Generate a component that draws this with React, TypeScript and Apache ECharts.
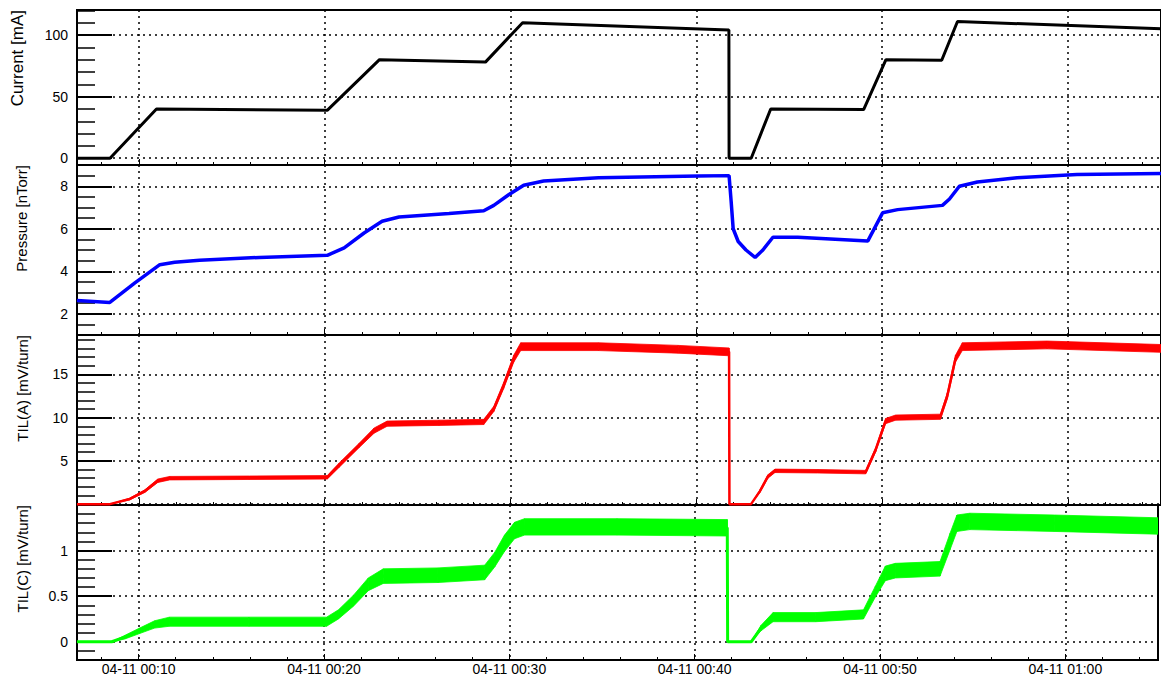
import React, { useEffect, useRef } from "react";
import * as echarts from "echarts";

// time axis: minutes after 04-11 00:00
const X_MIN = 6.674;
const X_MAX = 65;

const currentTime = [6.67, 8.45, 10.95, 20.15, 22.95, 28.65, 30.65, 41.75, 41.76, 42.95, 44.0, 49.0, 50.2, 53.2, 54.05, 65];
const currentVal = [0, 0, 40, 39, 80, 78, 110, 104, 0, 0, 40, 39.5, 80, 79.5, 111, 105];

const pressureTime = [6.67, 8.44, 9.79, 11.13, 11.93, 13.27, 16.49, 20.14, 21.05, 22.12, 23.09, 24.0, 26.69, 28.56, 29.1, 29.9, 30.71, 31.78, 34.73, 40.1, 41.76, 41.87, 41.98, 42.25, 42.67, 43.16, 43.58, 44.12, 45.46, 49.22, 50.02, 50.83, 53.24, 53.62, 54.15, 55.12, 57.26, 60.48, 65];
const pressureVal = [2.62, 2.53, 3.45, 4.31, 4.42, 4.52, 4.65, 4.75, 5.1, 5.8, 6.35, 6.55, 6.72, 6.85, 7.1, 7.6, 8.05, 8.25, 8.4, 8.48, 8.5, 7.3, 6.0, 5.4, 5.0, 4.65, 5.0, 5.6, 5.6, 5.42, 6.75, 6.9, 7.1, 7.4, 8.0, 8.2, 8.4, 8.55, 8.6];

const tilATime = [6.67, 8.44, 9.52, 10.32, 11.02, 11.66, 15.95, 20.14, 20.78, 21.86, 22.66, 23.36, 26.15, 28.56, 29.1, 29.63, 30.17, 30.55, 34.73, 39.02, 41.76, 41.78, 42.94, 43.42, 43.85, 44.23, 46.53, 49.11, 49.65, 50.18, 50.72, 53.13, 53.5, 53.94, 54.31, 58.87, 65];
const tilAVal = [0, 0, 0.6, 1.5, 2.7, 3.0, 3.05, 3.1, 4.5, 6.8, 8.5, 9.3, 9.4, 9.5, 11.0, 13.7, 16.8, 18.2, 18.2, 17.9, 17.6, 0, 0, 1.5, 3.2, 3.85, 3.8, 3.7, 6.3, 9.6, 10.0, 10.1, 12.5, 16.8, 18.2, 18.4, 18.0];
// half-width of the noise band around TIL(A)
const tilASpread = [0, 0, 0.1, 0.15, 0.2, 0.2, 0.2, 0.2, 0.25, 0.25, 0.3, 0.3, 0.3, 0.3, 0.3, 0.35, 0.4, 0.45, 0.45, 0.45, 0.45, 0, 0, 0.15, 0.2, 0.2, 0.2, 0.2, 0.25, 0.3, 0.3, 0.3, 0.35, 0.4, 0.45, 0.45, 0.45];

const tilCTime = [6.67, 8.55, 9.25, 10.05, 10.86, 11.66, 15.95, 20.14, 20.78, 21.59, 22.39, 23.2, 26.15, 28.67, 29.21, 29.74, 30.28, 30.82, 35.81, 41.76, 41.78, 43.05, 43.58, 44.23, 46.53, 49.11, 49.75, 50.29, 50.83, 53.24, 53.78, 54.15, 54.85, 59.41, 65];
const tilCVal = [0, 0, 0.05, 0.12, 0.19, 0.22, 0.22, 0.22, 0.3, 0.45, 0.63, 0.72, 0.73, 0.76, 0.9, 1.08, 1.22, 1.26, 1.26, 1.25, 0, 0, 0.15, 0.27, 0.27, 0.3, 0.55, 0.75, 0.78, 0.8, 1.1, 1.3, 1.32, 1.3, 1.27];
// half-width of the noise band around TIL(C)
const tilCSpread = [0, 0, 0.02, 0.03, 0.04, 0.05, 0.05, 0.05, 0.05, 0.06, 0.07, 0.08, 0.08, 0.08, 0.08, 0.09, 0.09, 0.09, 0.09, 0.09, 0, 0, 0.03, 0.05, 0.05, 0.05, 0.06, 0.08, 0.08, 0.08, 0.09, 0.09, 0.09, 0.09, 0.09];

const titles = ["Current [mA]", "Pressure [nTorr]", "TIL(A) [mV/turn]", "TIL(C) [mV/turn]"];
const yMins = [-5.5, 1, -0.1, -0.2];
const yMaxs = [120.3, 9, 19.55, 1.5];
const yMajor = [50, 2, 5, 0.5];
const yMinorSplit = [5, 4, 5, 5];
const yLabelMax = [100, 8, 15, 1];
const yLabelMin = [0, 2, 5, 0];

const FONT = "'Liberation Sans', Arial, Helvetica, sans-serif";
const pad = (n: number) => (n < 10 ? "0" + n : "" + n);
const zip = (t: number[], v: number[]) => t.map((x, i) => [x, v[i]]);

export default function App() {
  const ref = useRef<HTMLDivElement>(null);
  useEffect(() => {
    if (!ref.current) return;
    const chart = echarts.init(ref.current, null, { renderer: "svg" });
    const tops = [10, 165, 335, 505];
    const heights = [155, 170, 170, 155];
    const grids = tops.map((t, i) => ({
      left: 77,
      width: 1087.2,
      top: t,
      height: heights[i],
      show: true,
      borderColor: "#000",
      borderWidth: 2,
      backgroundColor: "transparent",
    }));
    const xAxes = tops.map((_, i) => ({
      type: "value",
      gridIndex: i,
      min: X_MIN,
      max: X_MAX,
      splitNumber: 6,
      minInterval: 10,
      maxInterval: 10,
      axisLine: { show: true, onZero: false, lineStyle: { color: "#000", width: 2 } },
      axisTick: { show: true, inside: true, length: 6, lineStyle: { color: "#000", width: 1 } },
      minorTick: { show: true, splitNumber: 5, length: 3, lineStyle: { color: "#000", width: 1 } },
      axisLabel: {
        show: i === 3,
        color: "#000",
        fontSize: 14,
        fontFamily: FONT,
        margin: 2,
        formatter: (v: number) => {
          const m = Math.round(v);
          if (Math.abs(v - m) > 1e-6 || m % 10 !== 0) return "";
          return "04-11 " + pad(Math.floor(m / 60)) + ":" + pad(m % 60);
        },
      },
      splitLine: { show: true, lineStyle: { color: "#000", type: [2, 4], width: 1.5 } },
    }));
    const yAxes = tops.map((_, i) => ({
      type: "value",
      gridIndex: i,
      min: yMins[i],
      max: yMaxs[i],
      minInterval: yMajor[i],
      maxInterval: yMajor[i],
      splitNumber: 4,
      axisLine: { show: true, onZero: false, lineStyle: { color: "#000", width: 2 } },
      axisTick: { show: true, inside: true, length: 35, lineStyle: { color: "#000", width: 2 } },
      minorTick: { show: true, splitNumber: yMinorSplit[i], length: 18, lineStyle: { color: "#000", width: 1.5 } },
      axisLabel: {
        color: "#000",
        fontSize: 14,
        fontFamily: FONT,
        margin: 9,
        formatter: (v: number) => {
          const k = Math.round(v / yMajor[i]);
          if (Math.abs(v - k * yMajor[i]) > 1e-6) return "";
          if (v < yLabelMin[i] - 1e-6 || v > yLabelMax[i] + 1e-6) return "";
          return String(Math.round(v * 1000) / 1000);
        },
      },
      splitLine: { show: true, lineStyle: { color: "#000", type: [2, 4], width: 1.5 } },
    }));
    const mk = (i: number, name: string, data: number[][], color: string, width: number) => ({
      type: "line",
      name,
      xAxisIndex: i,
      yAxisIndex: i,
      data,
      showSymbol: false,
      symbol: "none",
      lineStyle: { color, width },
      z: 4,
    });
    // noise band drawn as quads between consecutive points, through the axes' scales
    const band = (i: number, name: string, t: number[], v: number[], s: number[], color: string) => ({
      type: "custom",
      name,
      xAxisIndex: i,
      yAxisIndex: i,
      clip: true,
      silent: true,
      z: 3,
      encode: { x: 0, y: [1, 2] },
      data: t.map((x, k) => [x, v[k] - s[k], v[k] + s[k]]),
      renderItem: (params: any, api: any) => {
        const k = params.dataIndex;
        if (k === 0) return null;
        const a0 = api.coord([t[k - 1], v[k - 1] - s[k - 1]]);
        const a1 = api.coord([t[k - 1], v[k - 1] + s[k - 1]]);
        const b0 = api.coord([api.value(0), api.value(1)]);
        const b1 = api.coord([api.value(0), api.value(2)]);
        return {
          type: "polygon",
          shape: { points: [a0, b0, b1, a1] },
          style: { fill: color, stroke: color, lineWidth: 0.8 },
        };
      },
    });
    const titleX = [17, 21, 22, 22];
    const titleSize = [17, 15, 15, 15];
    chart.setOption({
      animation: false,
      backgroundColor: "#fff",
      grid: grids,
      xAxis: xAxes,
      yAxis: yAxes,
      series: [
        mk(0, "Current", zip(currentTime, currentVal), "#000000", 3),
        mk(1, "Pressure", zip(pressureTime, pressureVal), "#0000ff", 3.5),
        band(2, "TIL(A) band", tilATime, tilAVal, tilASpread, "#ff0000"),
        mk(2, "TIL(A)", zip(tilATime, tilAVal), "#ff0000", 2.5),
        band(3, "TIL(C) band", tilCTime, tilCVal, tilCSpread, "#00ff00"),
        mk(3, "TIL(C)", zip(tilCTime, tilCVal), "#00ff00", 3),
      ],
      graphic: titles.map((t, i) => ({
        type: "text",
        x: titleX[i],
        y: tops[i],
        rotation: Math.PI / 2,
        style: {
          text: t,
          fill: "#000",
          font: `${titleSize[i]}px ${FONT}`,
          textAlign: "right",
          textVerticalAlign: "middle",
        },
      })),
    });
    return () => chart.dispose();
  }, []);
  return (
    <div
      ref={ref}
      style={{ position: "fixed", left: 0, top: 0, width: 1161, height: 676, background: "#fff" }}
    />
  );
}
